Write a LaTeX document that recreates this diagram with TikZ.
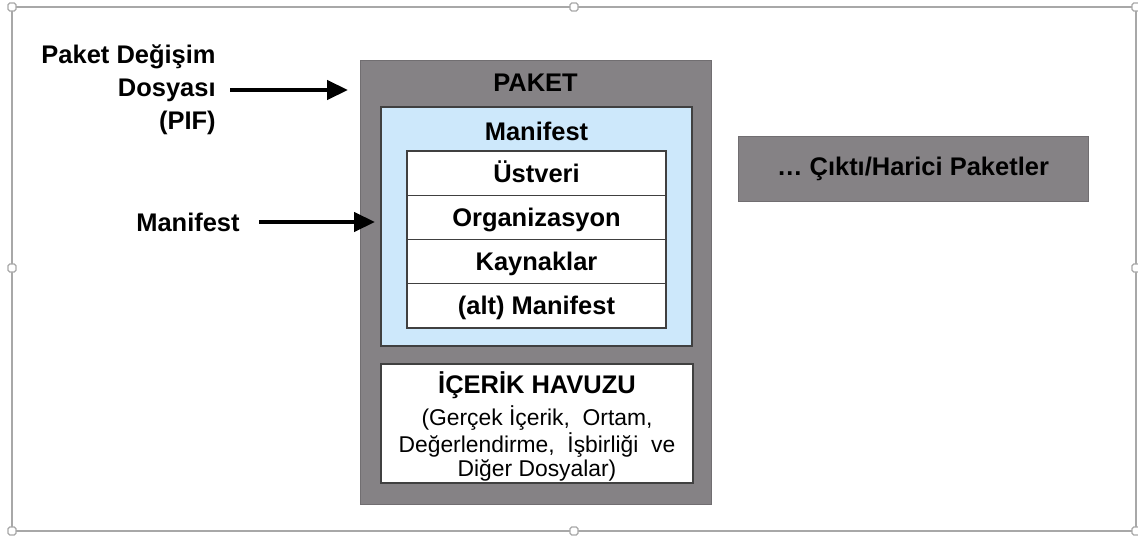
\documentclass[tikz,border=0pt]{standalone}
\usepackage{fontspec}
\setmainfont{Liberation Sans}
\usetikzlibrary{positioning}
\usetikzlibrary{arrows.meta}
\definecolor{pkgray}{HTML}{858285}
\definecolor{mfblue}{HTML}{CDE8FB}
\definecolor{framegray}{HTML}{A8A8A8}
\tikzset{
  pkbox/.style={draw=pkgray!85!black,fill=pkgray,line width=0.4pt,inner sep=0pt,outer sep=0pt},
  inbox/.style={draw=black!75,line width=0.8pt,inner sep=0pt,outer sep=0pt},
  rowbox/.style={inbox,fill=white,minimum width=5.18cm,minimum height=0.885cm,
    text height=10.4pt,text depth=0pt,font=\fontsize{14.5}{17}\selectfont\bfseries},
  bigtxt/.style={font=\fontsize{14.5}{18.7}\selectfont\bfseries},
  arr/.style={line width=2.3pt,-{Triangle[length=0.42cm,width=0.38cm]}},
  handle/.style={draw=framegray,fill=white,line width=0.7pt,rounded corners=1pt,
    minimum size=0.16cm,inner sep=0pt}
}
\begin{document}
\begin{tikzpicture}[x=0.02cm,y=-0.02cm]
  \useasboundingbox (0,0) rectangle (1138,537);
  % outer frame
  \draw[framegray,line width=0.85pt] (12,7) rectangle (1136,531);
  \foreach \hx/\hy in {12/7,574/7,1136/7,12/268,1136/268,12/531,574/531,1136/531}
    \node[handle] at (\hx,\hy) {};
  % package
  \node[pkbox,minimum width=7.02cm,minimum height=8.88cm] (paket) at (535.5,282) {};
  \node[bigtxt] (paketlbl) at (535.5,83) {PAKET};
  \node[inbox,fill=mfblue,minimum width=6.22cm,minimum height=4.78cm] (manbox) at (536.5,226.5) {};
  \node[bigtxt] (manlbl) at (536.5,131) {Manifest};
  \node[rowbox] (ust) at (536.5,173.1) {Üstveri};
  \node[rowbox,below=0pt of ust] (org) {Organizasyon};
  \node[rowbox,below=0pt of org] (kay) {Kaynaklar};
  \node[rowbox,below=0pt of kay] (alt) {(alt) Manifest};
  \node[inbox,fill=white,minimum width=6.24cm,minimum height=2.38cm] (havuz) at (537,423.5) {};
  \node[align=center,font=\fontsize{13}{13.6}\selectfont] (havuztxt) at ([yshift=-0.06cm]havuz.center)
    {{\fontsize{14.5}{14.5}\selectfont\bfseries İÇERİK HAVUZU}\\[3pt]
     (Gerçek İçerik,\ \ Ortam,\\ Değerlendirme,\ \ İşbirliği\ \ ve\\ Diğer Dosyalar)};
  % other packages
  \node[pkbox,minimum width=7.0cm,minimum height=1.3cm,bigtxt] (cikti) at (913,168.5)
    {… Çıktı/Harici Paketler};
  % left labels
  \node[bigtxt,align=right,anchor=east,inner sep=0pt] (pif) at (216,90)
    {Paket Değişim\\Dosyası\\(PIF)};
  \node[bigtxt,anchor=east,inner sep=0pt] (mlbl) at (240,222) {Manifest};
  \draw[arr,shorten <=0.28cm,shorten >=0.24cm] (pif.east) -- (pif.east -| paket.west);
  \draw[arr,shorten <=0.38cm,shorten >=0.12cm] (mlbl.east) -- (mlbl.east -| manbox.west);
\end{tikzpicture}
\end{document}
